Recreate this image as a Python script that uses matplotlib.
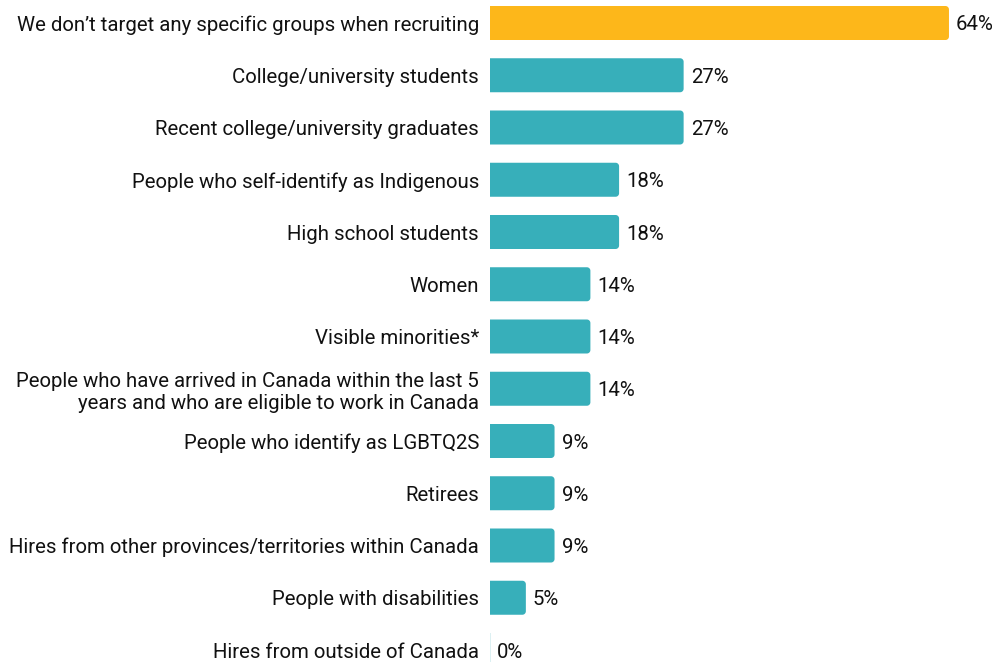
import numpy as np
import matplotlib
matplotlib.use("Agg")
import matplotlib.pyplot as plt
from matplotlib.patches import Polygon

plt.rcParams["font.family"] = ["Roboto", "DejaVu Sans"]

categories = [
    "We don\u2019t target any specific groups when recruiting",
    "College/university students",
    "Recent college/university graduates",
    "People who self-identify as Indigenous",
    "High school students",
    "Women",
    "Visible minorities*",
    "People who have arrived in Canada within the last 5\nyears and who are eligible to work in Canada",
    "People who identify as LGBTQ2S",
    "Retirees",
    "Hires from other provinces/territories within Canada",
    "People with disabilities",
    "Hires from outside of Canada",
]
values = [64, 27, 27, 18, 18, 14, 14, 14, 9, 9, 9, 5, 0]

ORANGE = "#FDB71A"
TEAL = "#37AFBA"
colors = [ORANGE] + [TEAL] * (len(values) - 1)

W, H, DPI = 1000, 662, 100
fig = plt.figure(figsize=(W / DPI, H / DPI), dpi=DPI)

x_max = 70
ax_left_px, ax_w_px = 490, 502
row0_px, pitch_px = 23, 52.25
y_top = -row0_px / pitch_px
y_bot = (H - row0_px) / pitch_px

ax = fig.add_axes([ax_left_px / W, 0, ax_w_px / W, 1])
ax.set_xlim(0, x_max)
ax.set_ylim(y_bot, y_top)

bar_h = 34 / pitch_px
x_per_px = x_max / ax_w_px
y_per_px = (y_bot - y_top) / H
r_px = 3.5
rx, ry = r_px * x_per_px, r_px * y_per_px


def bar_outline(v, y0, h):
    """Bar with a square left edge and rounded right corners."""
    rxx = min(rx, v / 2)
    t = np.linspace(0, np.pi / 2, 10)
    # top-right corner (y grows downward on screen, y0 is the top)
    tr = np.column_stack([v - rxx + rxx * np.sin(t), y0 + ry - ry * np.cos(t)])
    br = np.column_stack([v - rxx + rxx * np.cos(t), y0 + h - ry + ry * np.sin(t)])
    pts = np.vstack([[0, y0], tr, br, [0, y0 + h]])
    return pts


for i, (v, c) in enumerate(zip(values, colors)):
    y0 = i - bar_h / 2
    if v > 0:
        ax.add_patch(Polygon(bar_outline(v, y0, bar_h), closed=True,
                             fc=c, ec="none"))
    else:
        ax.plot([0, 0], [y0, y0 + bar_h], color="#d6eef0", lw=1.2,
                solid_capstyle="butt")
    ax.text(v + 7 * x_per_px, i, f"{v}%", va="center_baseline", ha="left",
            fontsize=14.7, color="#111111")

ax.set_yticks(range(len(categories)))
ax.set_yticklabels(categories, fontsize=14.7, color="#111111", linespacing=1.2)
ax.tick_params(axis="y", length=0, pad=8)
ax.set_xticks([])
for s in ax.spines.values():
    s.set_visible(False)
for lbl in ax.get_yticklabels():
    lbl.set_horizontalalignment("right")
    lbl.set_multialignment("right")

fig.savefig("out.png", dpi=DPI, facecolor="white")
